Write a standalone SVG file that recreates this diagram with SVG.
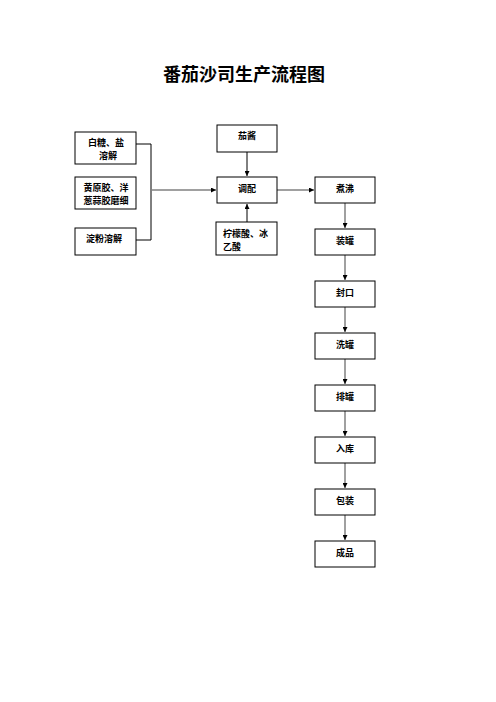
<svg xmlns="http://www.w3.org/2000/svg" width="496" height="702" viewBox="0 0 496 702">
<style>
.box{fill:#fff;stroke:#000;stroke-width:1}
.t{font-family:"Noto Sans CJK SC","Noto Sans",sans-serif;font-size:9px;font-weight:bold;fill:#000}
.c{text-anchor:middle}
.ln{stroke:#808080;stroke-width:1.5;fill:none}
.br{stroke:#000;stroke-width:1;fill:none}
</style>
<defs>
<marker id="ah" viewBox="0 0 6 6" refX="6" refY="3" markerWidth="5" markerHeight="5" orient="auto" markerUnits="userSpaceOnUse">
<path d="M0,0 L6,3 L0,6 Z" fill="#000"/>
</marker>
</defs>
<rect width="496" height="702" fill="#fff"/>
<text x="244" y="81" text-anchor="middle" font-family="Noto Sans CJK SC,sans-serif" font-size="18" font-weight="bold">番茄沙司生产流程图</text>

<g id="connectors">
<path class="br" d="M136,144 H151 V240 H136"/>
<line class="ln" x1="151" y1="190" x2="216" y2="190" marker-end="url(#ah)"/>
<line class="br" x1="247" y1="152" x2="247" y2="176" marker-end="url(#ah)"/>
<line class="br" x1="247" y1="222" x2="247" y2="204" marker-end="url(#ah)"/>
<line class="ln" x1="277" y1="190" x2="314" y2="190" marker-end="url(#ah)"/>
<line class="ln" x1="345" y1="203" x2="345" y2="228" marker-end="url(#ah)"/>
<line class="ln" x1="345" y1="255" x2="345" y2="280" marker-end="url(#ah)"/>
<line class="ln" x1="345" y1="307" x2="345" y2="332" marker-end="url(#ah)"/>
<line class="ln" x1="345" y1="359" x2="345" y2="384" marker-end="url(#ah)"/>
<line class="ln" x1="345" y1="411" x2="345" y2="436" marker-end="url(#ah)"/>
<line class="ln" x1="345" y1="463" x2="345" y2="488" marker-end="url(#ah)"/>
<line class="ln" x1="345" y1="515" x2="345" y2="540" marker-end="url(#ah)"/>
</g>

<g id="n1"><rect class="box" x="75" y="132" width="61" height="32"/><text class="t c" x="106" y="146">白糖、盐</text><text class="t c" x="108" y="159">溶解</text></g>
<g id="n2"><rect class="box" x="75" y="177" width="61" height="32"/><text class="t c" x="106" y="191">黄原胶、洋</text><text class="t c" x="106" y="204">葱蒜胶磨细</text></g>
<g id="n3"><rect class="box" x="75" y="228" width="61" height="27"/><text class="t c" x="104" y="242">淀粉溶解</text></g>
<g id="n4"><rect class="box" x="217" y="125" width="60" height="27"/><text class="t c" x="247" y="139">茄酱</text></g>
<g id="n5"><rect class="box" x="217" y="177" width="60" height="26"/><text class="t c" x="247" y="192">调配</text></g>
<g id="n6"><rect class="box" x="216" y="222" width="61" height="33"/><text class="t" x="223" y="237">柠檬酸、冰</text><text class="t" x="223" y="250">乙酸</text></g>
<g id="n7"><rect class="box" x="315" y="177" width="60" height="26"/><text class="t c" x="345" y="192">煮沸</text></g>
<g id="n8"><rect class="box" x="315" y="229" width="60" height="26"/><text class="t c" x="345" y="244">装罐</text></g>
<g id="n9"><rect class="box" x="315" y="281" width="60" height="26"/><text class="t c" x="345" y="296">封口</text></g>
<g id="n10"><rect class="box" x="315" y="333" width="60" height="26"/><text class="t c" x="345" y="348">洗罐</text></g>
<g id="n11"><rect class="box" x="315" y="385" width="60" height="26"/><text class="t c" x="345" y="400">排罐</text></g>
<g id="n12"><rect class="box" x="315" y="437" width="60" height="26"/><text class="t c" x="345" y="452">入库</text></g>
<g id="n13"><rect class="box" x="315" y="489" width="60" height="26"/><text class="t c" x="345" y="504">包装</text></g>
<g id="n14"><rect class="box" x="315" y="541" width="60" height="26"/><text class="t c" x="345" y="556">成品</text></g>
</svg>
